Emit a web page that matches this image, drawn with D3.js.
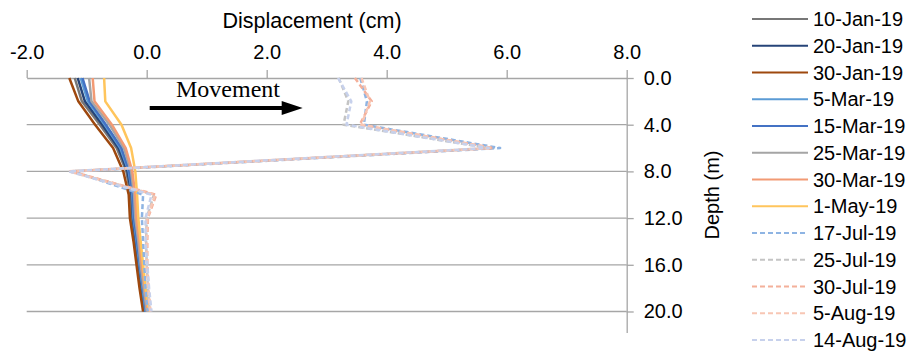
<!DOCTYPE html>
<html>
<head>
<meta charset="utf-8">
<script src="https://cdn.jsdelivr.net/npm/d3@7"></script>
<style>
  body { margin: 0; background: #fff; }
  text { fill: #000; }
</style>
</head>
<body>
<div id="chart"></div>
<script>
// depth points (m)
const depths = [0, 2, 4, 6, 8, 10, 12, 14, 16, 18, 20];

const seriesNames = ["10-Jan-19", "20-Jan-19", "30-Jan-19", "5-Mar-19", "15-Mar-19", "25-Mar-19",
  "30-Mar-19", "1-May-19", "17-Jul-19", "25-Jul-19", "30-Jul-19", "5-Aug-19", "14-Aug-19"];

// displacement (cm) per depth
const jan10 = [-1.20, -1.08, -0.78, -0.50, -0.34, -0.27, -0.25, -0.20, -0.15, -0.10, -0.04];
const jan20 = [-1.15, -1.03, -0.74, -0.47, -0.32, -0.25, -0.23, -0.18, -0.13, -0.08, -0.03];
const jan30 = [-1.29, -1.14, -0.86, -0.56, -0.39, -0.30, -0.28, -0.22, -0.17, -0.12, -0.06];
const mar5 = [-1.10, -0.98, -0.70, -0.44, -0.30, -0.24, -0.22, -0.17, -0.12, -0.07, -0.02];
const mar15 = [-1.07, -0.95, -0.68, -0.42, -0.29, -0.23, -0.21, -0.16, -0.11, -0.06, -0.01];
const mar25 = [-0.96, -0.92, -0.62, -0.38, -0.26, -0.21, -0.19, -0.14, -0.10, -0.05, 0.00];
const mar30 = [-0.90, -0.87, -0.58, -0.35, -0.24, -0.19, -0.17, -0.12, -0.08, -0.03, 0.02];
const may1 = [-0.71, -0.69, -0.42, -0.26, -0.19, -0.16, -0.14, -0.10, -0.06, -0.02, 0.04];
const jul17 = [3.56, 3.67, 3.62, 5.89, -1.22, -0.06, -0.08, -0.06, -0.04, -0.02, 0.02];
const jul25 = [3.20, 3.36, 3.28, 5.72, -1.28, 0.12, 0.00, -0.01, 0.00, 0.02, 0.05];
const jul30 = [3.47, 3.75, 3.55, 5.78, -1.26, 0.16, 0.02, 0.01, 0.01, 0.03, 0.06];
const aug5 = [3.58, 3.72, 3.58, 5.75, -1.30, 0.14, 0.01, 0.00, 0.00, 0.03, 0.06];
const aug14 = [3.19, 3.41, 3.33, 5.70, -1.30, 0.08, -0.02, -0.02, 0.01, 0.04, 0.08];

const seriesValues = [jan10, jan20, jan30, mar5, mar15, mar25, mar30, may1, jul17, jul25, jul30, aug5, aug14];

const colors = ["#777777", "#264478", "#9E480E", "#5B9BD5", "#4472C4", "#A5A5A5", "#F29A74",
  "#FFC55C", "#8EB4E3", "#C4C4C4", "#F4B09A", "#F8C6B4", "#C7D1EC"];
const dashed = [false, false, false, false, false, false, false, false, true, true, true, true, true];

const xTicks = [-2, 0, 2, 4, 6, 8];
const yTicks = [0, 4, 8, 12, 16, 20];

const sans = "Liberation Sans, Arial, sans-serif";
const W = 915, H = 351;
const svg = d3.select("#chart").append("svg").attr("width", W).attr("height", H);

const x = d3.scaleLinear().domain([-2, 8]).range([26.7, 626.7]);
const y = d3.scaleLinear().domain([0, 21.8]).range([78, 332.5]);

// gridlines
svg.append("g")
  .selectAll("line")
  .data(yTicks.slice(1))
  .join("line")
  .attr("x1", x(-2)).attr("x2", x(8))
  .attr("y1", d => y(d)).attr("y2", d => y(d))
  .attr("stroke", "#a6a6a6").attr("stroke-width", 1.3);

// top x axis
const xAxis = svg.append("g")
  .attr("transform", `translate(0,${y(0)})`)
  .call(d3.axisTop(x).tickValues(xTicks).tickFormat(d3.format(".1f")).tickSizeInner(8).tickSizeOuter(0).tickPadding(11));
xAxis.select(".domain").attr("stroke", "#a6a6a6").attr("stroke-width", 1.3);
xAxis.selectAll(".tick line").attr("stroke", "#a6a6a6").attr("stroke-width", 1.3);
xAxis.selectAll(".tick text").attr("font-size", "20px").attr("fill", "#000")
  .attr("font-family", sans)
  .text(d => d3.format(".1f")(d).replace("−", "-"));

// right y axis
const yAxis = svg.append("g")
  .attr("transform", `translate(${x(8)},0)`)
  .call(d3.axisRight(y).tickValues(yTicks).tickFormat(d3.format(".1f")).tickSizeInner(7).tickSizeOuter(0).tickPadding(10));
yAxis.select(".domain").attr("stroke", "#a6a6a6").attr("stroke-width", 1.3);
yAxis.selectAll(".tick line").attr("stroke", "#a6a6a6").attr("stroke-width", 1.3);
yAxis.selectAll(".tick text").attr("font-size", "20px").attr("fill", "#000")
  .attr("font-family", sans);

// axis titles
svg.append("text")
  .attr("x", 312).attr("y", 28)
  .attr("text-anchor", "middle")
  .attr("font-family", sans)
  .attr("font-size", "21.5px")
  .text("Displacement (cm)");

svg.append("text")
  .attr("transform", `translate(719,${195}) rotate(-90)`)
  .attr("text-anchor", "middle")
  .attr("font-family", sans)
  .attr("font-size", "20px")
  .text("Depth (m)");

// series lines
const line = d3.line()
  .x(d => x(d[0]))
  .y(d => y(d[1]));

svg.append("g")
  .selectAll("path")
  .data(d3.range(seriesNames.length))
  .join("path")
  .attr("d", i => line(seriesValues[i].map((v, j) => [v, depths[j]])))
  .attr("fill", "none")
  .attr("stroke", i => colors[i])
  .attr("stroke-width", 2.5)
  .attr("stroke-linejoin", "round")
  .attr("stroke-dasharray", i => dashed[i] ? "5,3" : null);

// movement annotation
svg.append("text")
  .attr("x", 176).attr("y", 97)
  .attr("font-family", "Liberation Serif, Times New Roman, serif")
  .attr("font-size", "24px")
  .text("Movement");

svg.append("line")
  .attr("x1", x(0.05)).attr("x2", x(2.35))
  .attr("y1", 108).attr("y2", 108)
  .attr("stroke", "#000").attr("stroke-width", 4);
svg.append("path")
  .attr("d", `M${x(2.25)},101 L${x(2.6)},108 L${x(2.25)},115 Z`)
  .attr("fill", "#000");

// legend
const legend = svg.append("g").attr("transform", "translate(752,19)");
seriesNames.forEach((name, i) => {
  const row = legend.append("g").attr("transform", `translate(0,${i * 26.75})`);
  row.append("line")
    .attr("x1", 0).attr("x2", 56).attr("y1", 0).attr("y2", 0)
    .attr("stroke", colors[i]).attr("stroke-width", 2.2)
    .attr("stroke-dasharray", dashed[i] ? "5,3" : null);
  row.append("text")
    .attr("x", 61).attr("y", 7)
    .attr("font-family", sans)
    .attr("font-size", "20px")
    .text(name);
});
</script>
</body>
</html>
